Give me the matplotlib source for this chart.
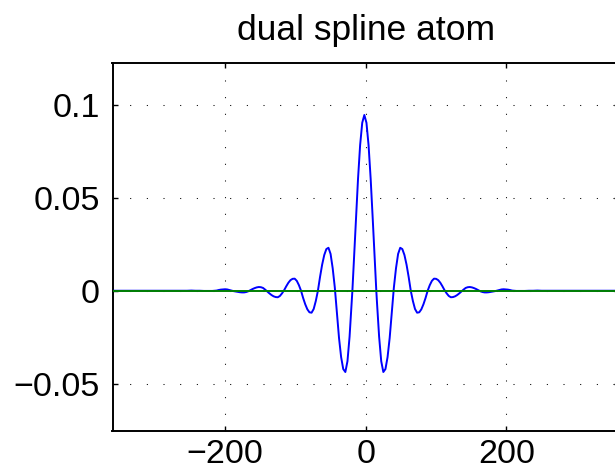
import matplotlib
matplotlib.use("Agg")
import matplotlib.pyplot as plt

title = "dual spline atom"

x_blue = [-360, -260, -254, -248, -242, -236, -230, -224, -218, -212, -209, -206, -203, -200,
          -197, -194, -191, -188, -185, -182, -179, -176, -173, -170, -167, -164, -161, -158,
          -155, -152, -149, -146, -143, -140, -137, -134, -131, -128, -125, -122, -119, -116,
          -113, -110, -107, -104, -101, -98, -95, -92, -89, -86, -83, -80, -77, -74, -71, -68,
          -65, -62, -59, -56, -53, -50, -47, -44, -41, -38, -35, -32, -29, -26, -23, -20, -19,
          -17, -14, -11, -8, -5, -2,
          1, 4, 7, 10, 13, 15, 16, 19, 22, 25, 28, 31, 34, 37, 40, 43, 46, 49, 52, 55, 58, 61,
          64, 67, 70, 73, 76, 79, 82, 85, 88, 91, 94, 97, 100, 103, 106, 109, 112, 115, 118,
          121, 124, 127, 130, 133, 136, 139, 142, 145, 148, 151, 154, 157, 160, 163, 166, 169,
          172, 175, 178, 181, 184, 187, 190, 193, 196, 199, 202, 205, 208, 214, 220, 226, 232,
          238, 244, 250, 256, 360]

y_blue = [0.0, 0.0, 0.0, 0.0001, 0.0, 0.0, -0.0001, -0.0001, -0.0001, 0.0001, 0.0004,
          0.0006, 0.0007, 0.0008, 0.0007, 0.0004, 0.0001, -0.0002, -0.0004, -0.0006, -0.0008,
          -0.0009, -0.0009, -0.0007, -0.0003, 0.0003, 0.0009, 0.0014, 0.0018, 0.0020, 0.0019,
          0.0015, 0.0006, -0.0004, -0.0014, -0.0023, -0.0030, -0.0034, -0.0035, -0.0028,
          -0.0014, 0.0003, 0.0024, 0.0043, 0.0057, 0.0064, 0.0065, 0.0053, 0.0030, 0.0,
          -0.0039, -0.0073, -0.0100, -0.0116, -0.0118, -0.0098, -0.0055, 0.0, 0.0074, 0.0140,
          0.0192, 0.0224, 0.0231, 0.0198, 0.0121, 0.0018, -0.0121, -0.0254, -0.0357, -0.0421,
          -0.0437, -0.0379, -0.0247, -0.0065, 0.0, 0.0148, 0.0381, 0.0601, 0.0783, 0.0903,
          0.0945,
          0.0903, 0.0783, 0.0601, 0.0381, 0.0148, 0.0, -0.0065, -0.0247, -0.0379, -0.0437,
          -0.0421, -0.0357, -0.0254, -0.0121, 0.0018, 0.0121, 0.0198, 0.0231, 0.0224, 0.0192,
          0.0140, 0.0074, 0.0, -0.0055, -0.0098, -0.0118, -0.0116, -0.0100, -0.0073, -0.0039,
          0.0, 0.0030, 0.0053, 0.0065, 0.0064, 0.0057, 0.0043, 0.0024, 0.0003, -0.0014,
          -0.0028, -0.0035, -0.0034, -0.0030, -0.0023, -0.0014, -0.0004, 0.0006, 0.0015,
          0.0019, 0.0020, 0.0018, 0.0014, 0.0009, 0.0003, -0.0003, -0.0007, -0.0009, -0.0009,
          -0.0008, -0.0006, -0.0004, -0.0002, 0.0001, 0.0004, 0.0007, 0.0008, 0.0007, 0.0006,
          0.0004, 0.0001, -0.0001, -0.0001, -0.0001, 0.0, 0.0, 0.0001, 0.0, 0.0,
          0.0]

x_green = [-360, 360]
y_green = [0.0, 0.0]

xticks = [-200, 0, 200]
xtick_labels = ["\u2212200", "0", "200"]
yticks = [-0.05, 0, 0.05, 0.1]
ytick_labels = ["\u22120.05", "0", "0.05", "0.1"]

plt.rcParams['font.family'] = ['Liberation Sans', 'DejaVu Sans']

W, H = 615, 473
fig = plt.figure(figsize=(W / 100, H / 100), dpi=100)
left, right, top, bottom = 112.5, 619.0, 62.7, 430.8
ax = fig.add_axes([left / W, (H - bottom) / H, (right - left) / W, (bottom - top) / H])

ax.plot(x_blue, y_blue, color=(0, 0, 1), lw=1.4, zorder=3)
ax.plot(x_green, y_green, color=(0, 0.5, 0), lw=1.4, zorder=4)

ax.set_xlim(-360, 360)
ax.set_ylim(-0.0753, 0.1226)
ax.set_xticks(xticks)
ax.set_xticklabels(xtick_labels)
ax.set_yticks(yticks)
ax.set_yticklabels(ytick_labels)

ax.grid(True, color='black', linestyle=(0, (1, 15)), linewidth=0.75)
ax.tick_params(direction='in', top=True, right=True, length=3.5, width=1,
               labelsize=24.5, colors='black')
ax.tick_params(axis='y', pad=9)
ax.tick_params(axis='x', pad=6)
for s in ax.spines.values():
    s.set_linewidth(1.4)
    s.set_color('black')

ax.set_title(title, fontsize=25.5, pad=16)

fig.savefig("out.png", dpi=100)
